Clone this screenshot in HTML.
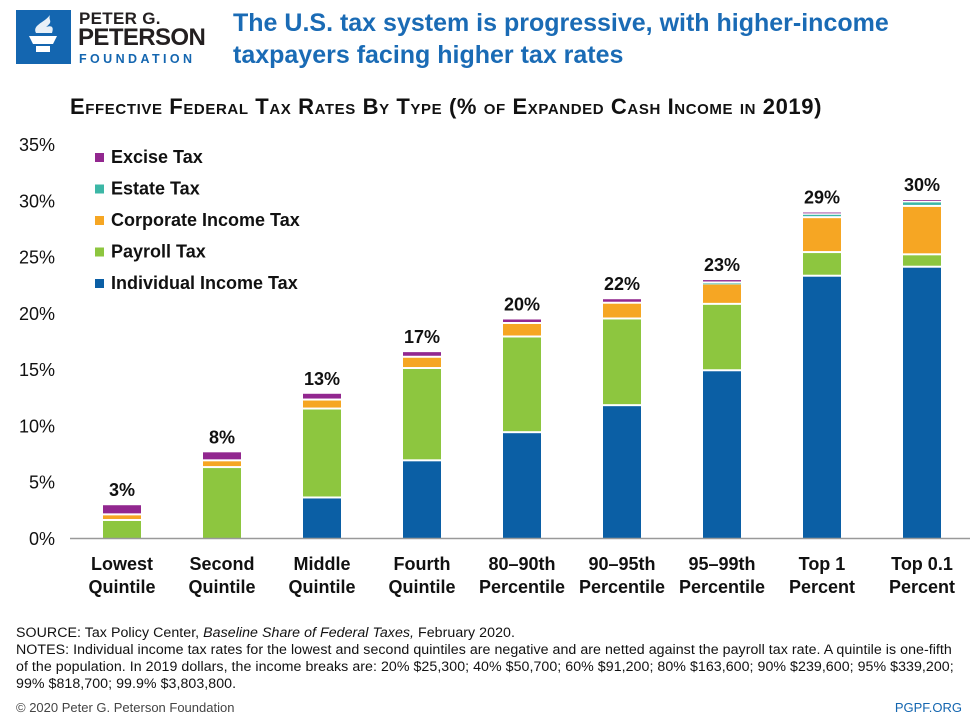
<!DOCTYPE html>
<html><head><meta charset="utf-8">
<style>
body{margin:0;width:976px;height:720px;background:#fff;font-family:"Liberation Sans",sans-serif;overflow:hidden;position:relative}
.abs{position:absolute}
</style></head><body>
<div class="abs" style="left:16px;top:10px;width:205px;height:55px">
  <div class="abs" style="left:0;top:0;width:55px;height:54px;background:#1466b0">
    <svg width="55" height="54" viewBox="0 0 55 54"><path d="M13 26h28l-4 8H17z M20 36h14v6H20z" fill="#fff"/><path d="M20 23c-4-8 8-10 14-18-2 6 4 6-4 12 6-2 8 0 6 6z" fill="#fff" opacity=".9"/></svg>
  </div>
  <div class="abs" style="left:63px;top:-1px;font-weight:bold;font-size:17px;color:#231f20;letter-spacing:0.3px">PETER G.</div>
  <div class="abs" style="left:62px;top:14px;font-weight:bold;font-size:24px;color:#231f20;letter-spacing:-0.6px">PETERSON</div>
  <div class="abs" style="left:63px;top:42px;font-size:12.5px;color:#1466b0;letter-spacing:3.4px;font-weight:bold">FOUNDATION</div>
</div>
<div class="abs" style="left:233px;top:7px;font-size:25px;font-weight:bold;color:#1a6bb5;line-height:32px;width:740px">The U.S. tax system is progressive, with higher-income taxpayers facing higher tax rates</div>
<div class="abs" style="left:70px;top:94px;font-size:22px;font-weight:bold;color:#111;font-variant:small-caps;letter-spacing:0.6px;white-space:nowrap">Effective Federal Tax Rates By Type (% of Expanded Cash Income in 2019)</div>
<svg class="abs" style="left:0;top:0" width="976" height="720" id="chart"></svg>
<div class="abs" style="left:16px;top:625px;font-size:14.2px;color:#111;line-height:17px;white-space:nowrap;letter-spacing:0.05px">SOURCE: Tax Policy Center, <i>Baseline Share of Federal Taxes,</i> February 2020.<br>NOTES: Individual income tax rates for the lowest and second quintiles are negative and are netted against the payroll tax rate. A quintile is one-fifth<br>of the population. In 2019 dollars, the income breaks are: 20% $25,300; 40% $50,700; 60% $91,200; 80% $163,600; 90% $239,600; 95% $339,200;<br>99% $818,700; 99.9% $3,803,800.</div>
<div class="abs" style="left:16px;top:700px;font-size:13px;color:#444">© 2020 Peter G. Peterson Foundation</div>
<div class="abs" style="right:14px;top:700px;font-size:13px;color:#1466b0">PGPF.ORG</div>
<script>
const categories=[["Lowest","Quintile"],["Second","Quintile"],["Middle","Quintile"],["Fourth","Quintile"],["80–90th","Percentile"],["90–95th","Percentile"],["95–99th","Percentile"],["Top 1","Percent"],["Top 0.1","Percent"]];
const individual=[0,0,3.6,6.9,9.4,11.8,14.9,23.3,24.1];
const payroll=[1.6,6.3,7.9,8.2,8.5,7.7,5.9,2.1,1.1];
const corporate=[0.5,0.6,0.8,1.0,1.2,1.4,1.8,3.1,4.3];
const estate=[0,0,0,0,0,0,0.1,0.3,0.4];
const excise=[0.9,0.8,0.6,0.5,0.4,0.4,0.3,0.2,0.2];
const totals=["3%","8%","13%","17%","20%","22%","23%","29%","30%"];
const yTicks=[0,5,10,15,20,25,30,35];
const seriesNames=["Individual Income Tax","Payroll Tax","Corporate Income Tax","Estate Tax","Excise Tax"];
const series=[individual,payroll,corporate,estate,excise];
const colors=["#0b5fa5","#8dc63f","#f6a623","#3cb7a6","#92278f"];
const NS="http://www.w3.org/2000/svg";
const svg=document.getElementById('chart');
const y=v=>538-v*11.257;
const x=i=>122+i*100;
function mk(t,a){const e=document.createElementNS(NS,t);for(const k in a)e.setAttribute(k,a[k]);svg.appendChild(e);return e;}
yTicks.forEach(t=>{const e=mk('text',{x:55,y:y(t)+7,'text-anchor':'end','font-size':18,fill:'#111'});e.textContent=t+'%';

});
categories.forEach((c,i)=>{let base=0;
series.forEach((s,k)=>{const v=s[i];if(v<=0)return;const y0=y(base),y1=y(base+v);
const r=mk('rect',{x:x(i)-19,y:y1+1,width:38,height:Math.max(0.8,y0-y1-(base>0?2:1)),fill:colors[k]});


base+=v;});
const lab=mk('text',{x:x(i),y:y(base)-8,'text-anchor':'middle','font-size':18,'font-weight':'bold',fill:'#111'});lab.textContent=totals[i];


c.forEach((l,j)=>{const t=mk('text',{x:x(i),y:570+j*23,'text-anchor':'middle','font-size':18,'font-weight':'bold',fill:'#111'});t.textContent=l;

});
});
const ax=mk('line',{x1:70,x2:970,y1:538.5,y2:538.5,stroke:'#999','stroke-width':1.5});


for(let k=4;k>=0;k--){const ly=158+(4-k)*31.5;
const sw=mk('rect',{x:95,y:ly-5,width:9,height:9,fill:colors[k]});


const t=mk('text',{x:111,y:ly+5,'font-size':18,'font-weight':'bold',fill:'#111'});t.textContent=seriesNames[k];

}
</script>
</body></html>
